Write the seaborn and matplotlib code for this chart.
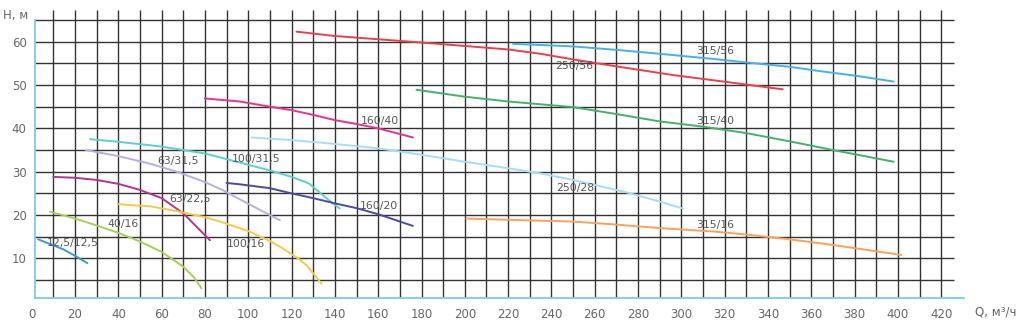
import numpy as np
import pandas as pd
import matplotlib
matplotlib.use("Agg")
import matplotlib.pyplot as plt
import seaborn as sns
from matplotlib.ticker import FixedLocator

# pump curves, Q in m3/h, H in m
q_12_12 = [3, 8, 14.6, 20, 25.7]
h_12_12 = [14.4, 13.4, 12.1, 10.6, 8.9]

q_40_16 = [8.4, 20, 30, 40, 50, 60, 70, 75, 78.4]
h_40_16 = [20.8, 19.2, 17.6, 15.9, 13.9, 11.5, 8.1, 5.6, 3.1]

q_63_22 = [10, 20, 30, 40, 50, 60, 70, 77.7, 82.3]
h_63_22 = [28.8, 28.6, 28.1, 27.2, 25.8, 23.9, 20.4, 16.5, 14.2]

q_63_31 = [25, 40, 55, 67, 80, 88, 100, 114.6]
h_63_31 = [35, 33.6, 31.8, 30, 27.6, 25.8, 22.6, 18.8]

q_100_31 = [26.9, 40, 60, 80, 100, 110, 120, 128, 133, 138, 142.3]
h_100_31 = [37.5, 36.9, 35.8, 34.2, 31.6, 30.3, 28.8, 27.3, 25.2, 23.1, 21.5]

q_100_16 = [40, 55, 68, 80, 87, 100, 110, 115, 123, 127, 133.8]
h_100_16 = [22.5, 22.0, 20.8, 19.5, 18.5, 16.3, 14.0, 12.6, 10.0, 8.4, 4.2]

q_160_40 = [80, 96, 110, 120, 130, 140, 150, 160, 176]
h_160_40 = [46.9, 46.2, 45.0, 44.2, 43.1, 41.9, 41.0, 40.0, 37.9]

q_160_20 = [90, 96, 110, 120, 130, 140, 150, 160, 176]
h_160_20 = [27.4, 27.1, 26.2, 25.0, 23.9, 22.7, 21.6, 20.2, 17.5]

q_250_28 = [101.5, 120, 140, 160, 180, 200, 220, 235, 250, 275, 290, 300.8]
h_250_28 = [37.9, 37.3, 36.4, 35.4, 33.9, 32.3, 30.8, 29.6, 28.1, 25.2, 23.1, 21.5]

q_250_56 = [122.3, 140, 180, 220, 235, 250, 270, 296, 310, 330, 346.8]
h_250_56 = [62.3, 61.3, 59.8, 58.2, 57.2, 55.9, 54.3, 52.3, 51.4, 50.1, 49.0]

q_315_56 = [222.3, 250, 270, 290, 315, 330, 350, 364, 381, 398]
h_315_56 = [59.5, 58.9, 58.1, 57.2, 56.0, 55.2, 54.2, 53.2, 52.1, 50.8]

q_315_40 = [177.7, 200, 220, 250, 270, 290, 310, 330, 350, 370, 398]
h_315_40 = [48.9, 47.3, 46.2, 44.9, 43.3, 41.6, 40.4, 38.9, 37.0, 35.0, 32.3]

q_315_16 = [200.7, 220, 235, 250, 270, 290, 315, 330, 350, 370, 401.5]
h_315_16 = [19.2, 18.9, 18.7, 18.5, 17.8, 17.0, 16.2, 15.5, 14.4, 13.1, 10.8]

pumps = ["12,5/12,5", "40/16", "63/22,5", "63/31,5", "100/31,5", "100/16",
         "160/40", "160/20", "250/28", "250/56", "315/56", "315/40", "315/16"]
q_values = [q_12_12, q_40_16, q_63_22, q_63_31, q_100_31, q_100_16,
            q_160_40, q_160_20, q_250_28, q_250_56, q_315_56, q_315_40, q_315_16]
h_values = [h_12_12, h_40_16, h_63_22, h_63_31, h_100_31, h_100_16,
            h_160_40, h_160_20, h_250_28, h_250_56, h_315_56, h_315_40, h_315_16]
colors = ["#3a9ad9", "#a6cf5a", "#b0368f", "#b8b0e0", "#5ccfcf", "#f7c948",
          "#e8338c", "#4b4ba0", "#a8dcf2", "#e8404f", "#45b2e6", "#45b06a", "#f7a35c"]

# where the curve names sit (data coords, text centre)
label_pos = {
    "12,5/12,5": (19.1, 13.6), "40/16": (42.4, 17.9), "63/31,5": (67.7, 32.4),
    "63/22,5": (73.3, 23.7), "100/31,5": (103.7, 32.9), "100/16": (98.9, 13.3),
    "160/20": (160.3, 22.1), "160/40": (160.7, 41.7), "250/56": (250.5, 54.4),
    "315/56": (315.8, 57.9), "250/28": (251.0, 26.2), "315/16": (315.8, 17.7),
    "315/40": (315.8, 41.7),
}

rows = []
for name, qs, hs in zip(pumps, q_values, h_values):
    for q, h in zip(qs, hs):
        rows.append({"pump": name, "Q": q, "H": h})
df = pd.DataFrame(rows)

sns.set_style("white")
plt.rcParams['font.family'] = ['DejaVu Sans']

fig = plt.figure(figsize=(10.24, 3.33), dpi=100)
ax = fig.add_axes([31.7 / 1024, (333 - 298.3) / 333, (964 - 31.7) / 1024, (298.3 - 10) / 333])

x_min, x_max = 0, 430.5
y_min, y_max = 0.8, 67.3
ax.set_xlim(x_min, x_max)
ax.set_ylim(y_min, y_max)

# square grid
grid_col = "#333333"
ax.vlines(np.arange(10, 421, 10), y_min, y_max, color=grid_col, lw=1.0, zorder=1)
ax.hlines(np.arange(5, 66, 5), 1.5, 426, color=grid_col, lw=1.0, zorder=1)

sns.lineplot(data=df, x="Q", y="H", hue="pump", palette=dict(zip(pumps, colors)),
             sort=False, estimator=None, legend=False, linewidth=1.4, ax=ax, zorder=3)

for name, (lx, ly) in label_pos.items():
    ax.text(lx, ly, name, ha="center", va="center", fontsize=7.8, color="#555555", zorder=4)

# axes styling
spine_col = "#7ccbe6"
for s in ["top", "right"]:
    ax.spines[s].set_visible(False)
ax.spines["left"].set_position(("data", 1.5))
ax.spines["left"].set_bounds(y_min, 65)
ax.spines["bottom"].set_bounds(1.5, x_max)
for s in ["left", "bottom"]:
    ax.spines[s].set_color(spine_col)
    ax.spines[s].set_linewidth(1.3)

ax.xaxis.set_major_locator(FixedLocator(np.arange(0, 421, 20)))
ax.xaxis.set_minor_locator(FixedLocator(np.arange(5, 426, 5)))
ax.yaxis.set_major_locator(FixedLocator(np.arange(10, 61, 10)))
ax.yaxis.set_minor_locator(FixedLocator(np.arange(2.5, 63, 2.5)))
ax.xaxis.remove_overlapping_locs = False
ax.yaxis.remove_overlapping_locs = False

tick_col = "#6f6fd0"
ax.tick_params(axis="x", which="major", length=0, pad=7, labelsize=8.5, labelcolor="#666666")
ax.tick_params(axis="y", which="major", length=0, pad=6, labelsize=8.5, labelcolor="#666666")
ax.tick_params(which="minor", length=3.5, width=0.9, color=tick_col, direction="out")
ax.set_xlabel("")
ax.set_ylabel("")

fig.text(3 / 1024, 1 - 15 / 333, "H, м", fontsize=8.5, color="#666666", ha="left", va="center")
fig.text(975 / 1024, 1 - 312 / 333, "Q, м³/ч", fontsize=8.5, color="#666666", ha="left", va="center")

fig.savefig("out.png", dpi=100)
